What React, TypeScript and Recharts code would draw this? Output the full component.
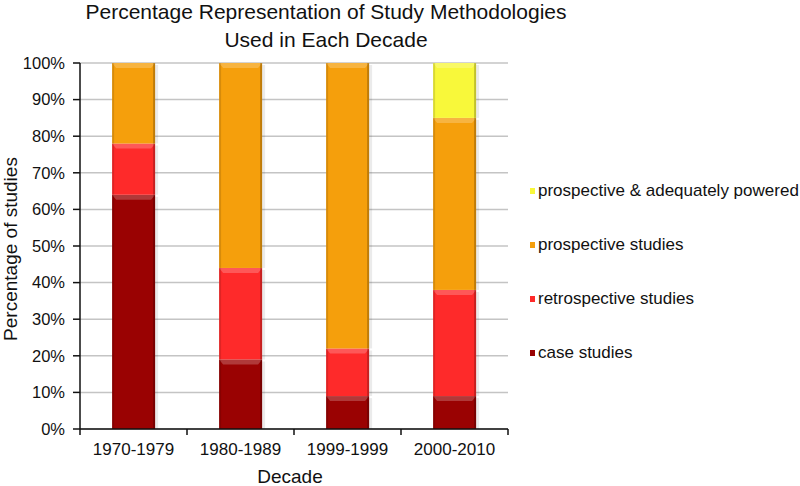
import React from 'react';
import { BarChart, Bar, XAxis, YAxis, CartesianGrid, Legend, Label } from 'recharts';

const decades = ['1970-1979', '1980-1989', '1999-1999', '2000-2010'];
const caseStudies = [64, 19, 9, 9];
const retrospective = [14, 25, 13, 29];
const prospective = [22, 56, 78, 47];
const adequatelyPowered = [0, 0, 0, 15];
const yTicks = [0, 10, 20, 30, 40, 50, 60, 70, 80, 90, 100];

const seriesNames = {
  caseStudies: 'case studies',
  retrospective: 'retrospective studies',
  prospective: 'prospective studies',
  powered: 'prospective & adequately powered',
};
const colors = {
  caseStudies: '#9a0202',
  retrospective: '#fe2a2a',
  prospective: '#f59f0c',
  powered: '#f8f83a',
};

const data = decades.map((d, i) => ({
  decade: d,
  caseStudies: caseStudies[i],
  retrospective: retrospective[i],
  prospective: prospective[i],
  powered: adequatelyPowered[i],
}));

const FONT = '"Liberation Sans", Arial, Helvetica, sans-serif';
const W = 800;
const H = 486;
const MARGIN = { top: 63, right: 20, bottom: 0, left: 0 };
const LEGEND_W = 272;
const Y_AXIS_W = 80;
const PLOT_W = W - MARGIN.left - MARGIN.right - LEGEND_W - Y_AXIS_W;
const BAND = PLOT_W / decades.length;

const BarShape = (props: any) => {
  const { x, y, width, height, fill } = props;
  if (!height || height <= 0) return null;
  const b = Math.min(5, height / 2);
  return (
    <g>
      <rect x={x + width} y={y + 2} width={3} height={height - 2} fill="#000" fillOpacity={0.08} />
      <rect x={x} y={y} width={width} height={height} fill={fill} />
      <polygon
        points={`${x},${y} ${x + width},${y} ${x + width - 4},${y + b} ${x + 4},${y + b}`}
        fill="#fff"
        fillOpacity={0.22}
      />
      <rect x={x} y={y} width={2} height={height} fill="#000" fillOpacity={0.12} />
      <rect x={x + width - 2} y={y} width={2} height={height} fill="#000" fillOpacity={0.22} />
    </g>
  );
};

const XTick = (props: any) => {
  const { x, y, payload, index } = props;
  const axisY = y - 14;
  return (
    <g>
      <line x1={x - BAND / 2} x2={x - BAND / 2} y1={axisY} y2={axisY + 6} stroke="#111" strokeWidth={1.5} />
      {index === decades.length - 1 && (
        <line x1={x + BAND / 2} x2={x + BAND / 2} y1={axisY} y2={axisY + 6} stroke="#111" strokeWidth={1.5} />
      )}
      <text x={x} y={y} dy="0.71em" textAnchor="middle" fill="#111" fontSize={17} fontFamily={FONT}>
        {payload.value}
      </text>
    </g>
  );
};

const legendOrder: (keyof typeof seriesNames)[] = ['powered', 'prospective', 'retrospective', 'caseStudies'];

const LegendContent = () => (
  <div style={{ width: LEGEND_W, fontFamily: FONT, fontSize: 17, color: '#111' }}>
    {legendOrder.map((k) => (
      <div key={k} style={{ height: 54, display: 'flex', alignItems: 'center' }}>
        <span
          style={{
            display: 'inline-block',
            flexShrink: 0,
            width: 5,
            height: 6,
            marginLeft: 22,
            marginRight: 3,
            background: colors[k],
          }}
        />
        <span style={{ whiteSpace: 'nowrap' }}>{seriesNames[k]}</span>
      </div>
    ))}
  </div>
);

export default function App() {
  return (
    <div style={{ position: 'absolute', left: 0, top: 0, width: W, height: H, background: '#fff' }}>
      <div
        style={{
          position: 'absolute',
          left: 0,
          top: -2,
          width: 652,
          textAlign: 'center',
          fontFamily: FONT,
          fontSize: 21,
          lineHeight: '28px',
          color: '#111',
        }}
      >
        Percentage Representation of Study Methodologies
        <br />
        Used in Each Decade
      </div>
      <BarChart width={W} height={H} data={data} margin={MARGIN} barCategoryGap="30%">
        <CartesianGrid vertical={false} stroke="#c4c4c4" strokeWidth={1.5} />
        <XAxis
          dataKey="decade"
          height={57}
          tickLine={false}
          tickSize={6}
          tickMargin={8}
          axisLine={{ stroke: '#111', strokeWidth: 1.5 }}
          tick={<XTick />}
          interval={0}
        >
          <Label
            content={() => (
              <text x={290} y={483} textAnchor="middle" fill="#111" fontSize={19} fontFamily={FONT}>
                Decade
              </text>
            )}
          />
        </XAxis>
        <YAxis
          width={Y_AXIS_W}
          domain={[0, 100]}
          ticks={yTicks}
          interval={0}
          tickFormatter={(v: number) => `${v}%`}
          tickSize={7}
          tickMargin={8}
          axisLine={{ stroke: '#111', strokeWidth: 1.5 }}
          tickLine={{ stroke: '#111', strokeWidth: 1.5 }}
          tick={{ fill: '#111', fontSize: 16.5, fontFamily: FONT }}
        >
          <Label
            content={() => (
              <text
                x={17}
                y={249}
                transform="rotate(-90 17 249)"
                textAnchor="middle"
                fill="#111"
                fontSize={19}
                fontFamily={FONT}
              >
                Percentage of studies
              </text>
            )}
          />
        </YAxis>
        <Legend
          layout="vertical"
          align="right"
          verticalAlign="top"
          wrapperStyle={{ top: 164 }}
          content={<LegendContent />}
        />
        <Bar dataKey="caseStudies" name={seriesNames.caseStudies} stackId="a" fill={colors.caseStudies} shape={BarShape} isAnimationActive={false} />
        <Bar dataKey="retrospective" name={seriesNames.retrospective} stackId="a" fill={colors.retrospective} shape={BarShape} isAnimationActive={false} />
        <Bar dataKey="prospective" name={seriesNames.prospective} stackId="a" fill={colors.prospective} shape={BarShape} isAnimationActive={false} />
        <Bar dataKey="powered" name={seriesNames.powered} stackId="a" fill={colors.powered} shape={BarShape} isAnimationActive={false} />
      </BarChart>
    </div>
  );
}
